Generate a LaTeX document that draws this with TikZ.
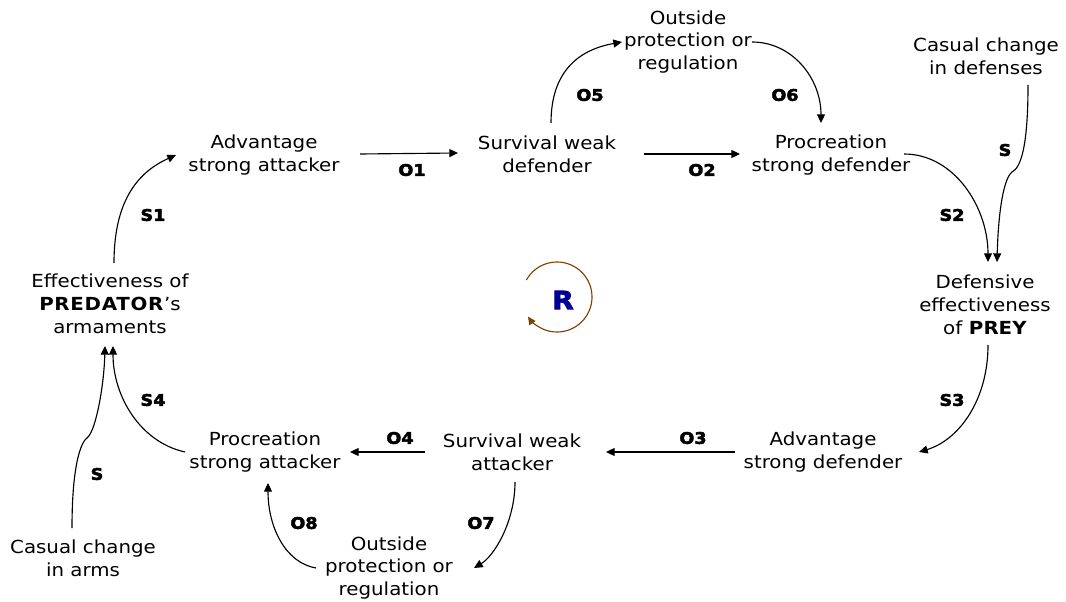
\documentclass[tikz,border=0pt]{standalone}
\usepackage{fontspec}
\setmainfont{DejaVu Sans}[FakeStretch=1.1]
\newfontfamily\lblfont{DejaVu Sans Bold}[FakeBold=3,FakeStretch=1.1]
\usetikzlibrary{arrows.meta}
\definecolor{loopbrown}{RGB}{128,64,0}
\definecolor{loopblue}{RGB}{0,0,150}

\begin{document}
\begin{tikzpicture}[x=0.75pt,y=-0.75pt,
  var/.style={align=center,font=\fontsize{13.5}{17.2}\selectfont,inner sep=1pt},
  link/.style={line width=0.85pt,-{Triangle[length=6.5pt,width=6pt]}},
  tag/.style={font=\lblfont\fontsize{12}{13}\selectfont,inner sep=0pt}]
\useasboundingbox (0,0) rectangle (1066,602);

% variables of the loop
\node[var] (adv) at (264,155) {Advantage\\strong attacker};
\node[var] (swd) at (547,154) {Survival weak\\defender};
\node[var] (opt) at (688,42)  {Outside\\protection or\\regulation};
\node[var] (psd) at (831,155) {Procreation\\strong defender};
\node[var] (ccd) at (986,56)  {Casual change\\in defenses};
\node[var] (dep) at (985,305) {Defensive\\effectiveness\\of \textbf{PREY}};
\node[var] (epa) at (110,304) {Effectiveness of\\\textbf{\addfontfeature{LetterSpace=4}PREDATOR}’s\\armaments};
\node[var] (psa) at (265,452) {Procreation\\strong attacker};
\node[var] (swa) at (512,452) {Survival weak\\attacker};
\node[var] (asd) at (823,452) {Advantage\\strong defender};
\node[var] (opb) at (389,568) {Outside\\protection or\\regulation};
\node[var] (cca) at (83,558)  {Casual change\\in arms};

% loop marker
\node[font=\lblfont\fontsize{19}{20}\selectfont,text=loopblue,inner sep=0pt] (loopR) at (563,300) {R};
\draw[loopbrown,line width=0.85pt,-{Triangle[length=6pt,width=5.5pt]}]
  (loopR) ++(-6,-3) ++(151:26.25pt) arc[start angle=151,end angle=-146,radius=26.25pt];

% kinks where the outside influences join
\coordinate (defkink) at (1012,172);
\coordinate (armkink) at (88,437);

% connectors
\draw[link] ([shift={(96,-1)}]adv.center) -- ([shift={(-89,-1)}]swd.center);
\draw[link] ([shift={(97,0)}]swd.center) -- ([shift={(-91,-1)}]psd.center);
\draw[link] ([shift={(4,-31)}]swd.center) .. controls +(0,-50) and +(-45,8) .. ([shift={(-66,0)}]opt.center);
\draw[link] ([shift={(64,0)}]opt.center) .. controls +(40,0) and +(0,-45) .. ([shift={(-10,-32)}]psd.center);
\draw[link] ([shift={(73,-1)}]psd.center) .. controls +(50,0) and +(0,-55) .. ([shift={(3,-43)}]dep.center);
\draw[line width=0.85pt] ([shift={(42,29)}]ccd.center) .. controls +(0,65) and +(8,-4) .. (defkink);
\draw[link] (defkink) .. controls +(-10,8) and +(1,-40) .. ([shift={(12,-43)}]dep.center);
\draw[link] ([shift={(3,40)}]dep.center) .. controls +(0,55) and +(40,-12) .. ([shift={(96,0)}]asd.center);
\draw[link] ([shift={(-88,0)}]asd.center) -- ([shift={(94,0)}]swa.center);
\draw[link] ([shift={(-87,0)}]swa.center) -- ([shift={(85,0)}]psa.center);
\draw[link] ([shift={(3,30)}]swa.center) .. controls +(0,40) and +(20,-12) .. ([shift={(85,0)}]opb.center);
\draw[link] ([shift={(-73,0)}]opb.center) .. controls +(-30,-5) and +(0,45) .. ([shift={(3,31)}]psa.center);
\draw[link] ([shift={(-80,0)}]psa.center) .. controls +(-45,-10) and +(0,50) .. ([shift={(3,42)}]epa.center);
\draw[line width=0.85pt] ([shift={(-11,-30)}]cca.center) .. controls +(0,-60) and +(-8,5) .. (armkink);
\draw[link] (armkink) .. controls +(8,-8) and +(-1,40) .. ([shift={(-5,42)}]epa.center);
\draw[link] ([shift={(4,-41)}]epa.center) .. controls +(0,-60) and +(-40,18) .. ([shift={(-88,0)}]adv.center);

% polarity labels
\node[tag] (tS1) at (153,215) {S1};
\node[tag] (tO1) at (412,170) {O1};
\node[tag] (tO5) at (590,95)  {O5};
\node[tag] (tO6) at (785,95)  {O6};
\node[tag] (tO2) at (702,170) {O2};
\node[tag] (tS2) at (952,215) {S2};
\node[tag] (tSd) at (1005,150) {S};
\node[tag] (tS3) at (952,400) {S3};
\node[tag] (tO3) at (693,438) {O3};
\node[tag] (tO4) at (400,438) {O4};
\node[tag] (tO7) at (481,523) {O7};
\node[tag] (tO8) at (304,523) {O8};
\node[tag] (tS4) at (153,400) {S4};
\node[tag] (tSa) at (97,474)  {S};
\end{tikzpicture}
\end{document}
